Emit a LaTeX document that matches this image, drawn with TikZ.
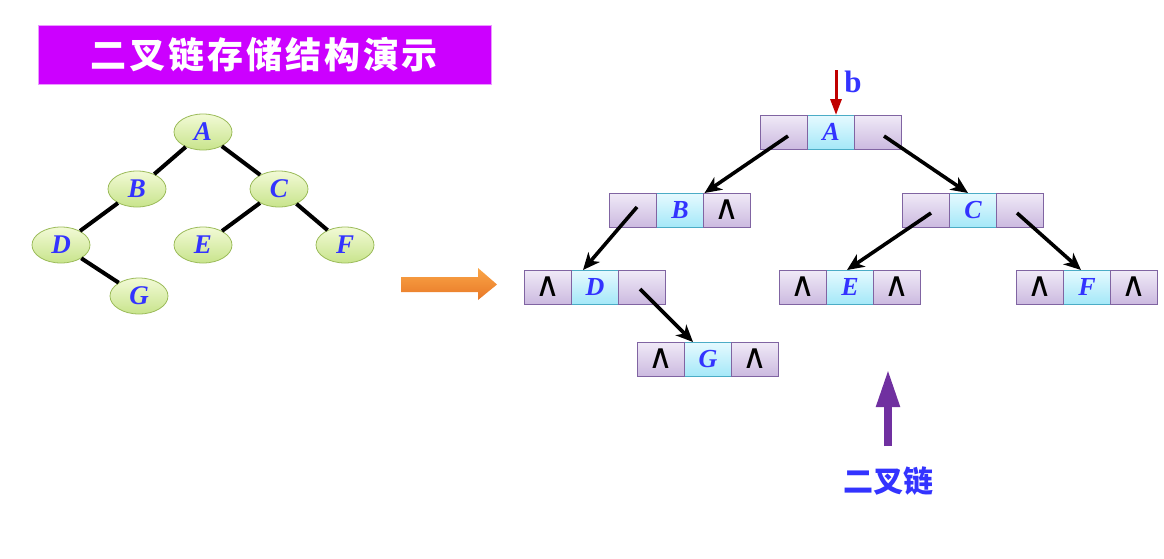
\documentclass[tikz,border=0pt]{standalone}
\usepackage{fontspec}
\setmainfont{Liberation Serif}
\newfontfamily\cjk{Noto Sans CJK SC}
\newfontfamily\cjktitle[LetterSpace=8]{Noto Sans CJK SC}
\newfontfamily\symfont{DejaVu Sans}
\usetikzlibrary{positioning, arrows.meta, shapes.geometric, calc}
\definecolor{letterblue}{RGB}{51, 51, 255}
\definecolor{titlemagenta}{RGB}{204, 0, 255}
\definecolor{leaftop}{RGB}{242, 250, 214}
\definecolor{leafbot}{RGB}{200, 228, 140}
\definecolor{leafedge}{RGB}{155, 187, 89}
\definecolor{lavtop}{RGB}{240, 234, 247}
\definecolor{lavbot}{RGB}{204, 186, 224}
\definecolor{lavedge}{RGB}{128, 100, 162}
\definecolor{cyantop}{RGB}{230, 250, 255}
\definecolor{cyanbot}{RGB}{165, 232, 248}
\definecolor{cyanedge}{RGB}{75, 172, 198}
\definecolor{ptrred}{RGB}{192, 0, 0}
\definecolor{chainpurple}{RGB}{112, 48, 160}
\definecolor{orangetop}{RGB}{250, 165, 70}
\definecolor{orangebot}{RGB}{232, 120, 40}

\begin{document}
\begin{tikzpicture}[x=1pt, y=-1pt,
      titlebox/.style={fill=titlemagenta, draw=titlemagenta!40, line width=0.6pt,
                       minimum width=453pt, minimum height=59pt, inner sep=0pt,
                       text=white, font=\cjktitle\bfseries\fontsize{36}{36}\selectfont},
      tnode/.style={ellipse, draw=leafedge, line width=0.8pt,
                    top color=leaftop, bottom color=leafbot,
                    minimum width=58pt, minimum height=36pt, inner sep=0pt,
                    text=letterblue, font=\fontsize{27}{27}\selectfont\bfseries\itshape},
      tedge/.style={line width=4pt},
      cell/.style={draw=lavedge, line width=1pt, top color=lavtop, bottom color=lavbot,
                   minimum width=47pt, minimum height=34pt, inner sep=0pt, outer sep=0pt},
      dat/.style={cell, draw=cyanedge, top color=cyantop, bottom color=cyanbot,
                  text=letterblue, font=\fontsize{26}{26}\selectfont\bfseries\itshape},
      nil/.style={cell, font=\symfont\fontsize{34}{34}\selectfont},
      link/.style={-{Stealth[length=17pt, width=15pt, inset=5pt]}, line width=3.6pt}]
    \useasboundingbox (0,0) rectangle (1164,558);

    % title
    \node[titlebox] (title) at (264.5,54.5) {二叉链存储结构演示};

    % the binary tree
    \node[tnode] (tA) at (203,132) {A};
    \node[tnode] (tB) at (137,189) {B};
    \node[tnode] (tC) at (279,189) {C};
    \node[tnode] (tD) at (61,245)  {D};
    \node[tnode] (tE) at (203,245) {E};
    \node[tnode] (tF) at (345,245) {F};
    \node[tnode] (tG) at (139,296) {G};
    \draw[tedge] (tA)--(tB); \draw[tedge] (tA)--(tC);
    \draw[tedge] (tB)--(tD); \draw[tedge] (tD)--(tG);
    \draw[tedge] (tC)--(tE); \draw[tedge] (tC)--(tF);

    % orange arrow
    \shade[top color=orangetop, bottom color=orangebot]
      (401,277) -- (478,277) -- (478,268) -- (497,284.5) -- (478,300) -- (478,292) -- (401,292) -- cycle;

    % the linked nodes
    \node[dat] (A) at (831,132) {A};
    \node[cell, left=0pt of A]  (lA) {};
    \node[cell, right=0pt of A] (rA) {};
    \node[dat] (B) at (680,210) {B};
    \node[cell, left=0pt of B]  (lB) {};
    \node[nil, right=0pt of B]  (rB) {∧};
    \node[dat] (C) at (973,210) {C};
    \node[cell, left=0pt of C]  (lC) {};
    \node[cell, right=0pt of C] (rC) {};
    \node[dat] (D) at (595,287) {D};
    \node[nil, left=0pt of D]   (lD) {∧};
    \node[cell, right=0pt of D] (rD) {};
    \node[dat] (E) at (850,287) {E};
    \node[nil, left=0pt of E]   (lE) {∧};
    \node[nil, right=0pt of E]  (rE) {∧};
    \node[dat] (F) at (1087,287) {F};
    \node[nil, left=0pt of F]   (lF) {∧};
    \node[nil, right=0pt of F]  (rF) {∧};
    \node[dat] (G) at (708,359) {G};
    \node[nil, left=0pt of G]   (lG) {∧};
    \node[nil, right=0pt of G]  (rG) {∧};

    \draw[link] ([shift={(4,4)}]lA.center) -- ([xshift=1pt]B.north east);
    \draw[link] ([shift={(6,4)}]rA.center) -- ([xshift=-5pt]C.north);
    \draw[link] ([shift={(4,-3)}]lB.center) -- ([xshift=-12pt]D.north);
    \draw[link] ([shift={(-2,2)}]rD.center) -- ([xshift=-15pt]G.north);
    \draw[link] ([shift={(5,3)}]lC.center) -- ([xshift=-3pt]E.north);
    \draw[link] ([shift={(-3,3)}]rC.center) -- ([xshift=-6pt]F.north);

    % head pointer b
    \node[text=letterblue, font=\fontsize{31}{31}\selectfont\bfseries] (bname) at (853,82) {b};
    \coordinate (btop) at (836,70);
    \draw[ptrred, line width=3pt, -{Triangle[length=16pt, width=11pt]}] (btop) -- ([xshift=5pt]A.north);

    % binary linked list label
    \node[text=letterblue, font=\cjk\bfseries\fontsize{30}{30}\selectfont] (chain) at (888,481) {二叉链};
    \draw[chainpurple, line width=8pt, -{Triangle[length=38pt, width=22pt]}]
      ([yshift=17pt]chain.north) -- ++(0,-77);
  \end{tikzpicture}
\end{document}
